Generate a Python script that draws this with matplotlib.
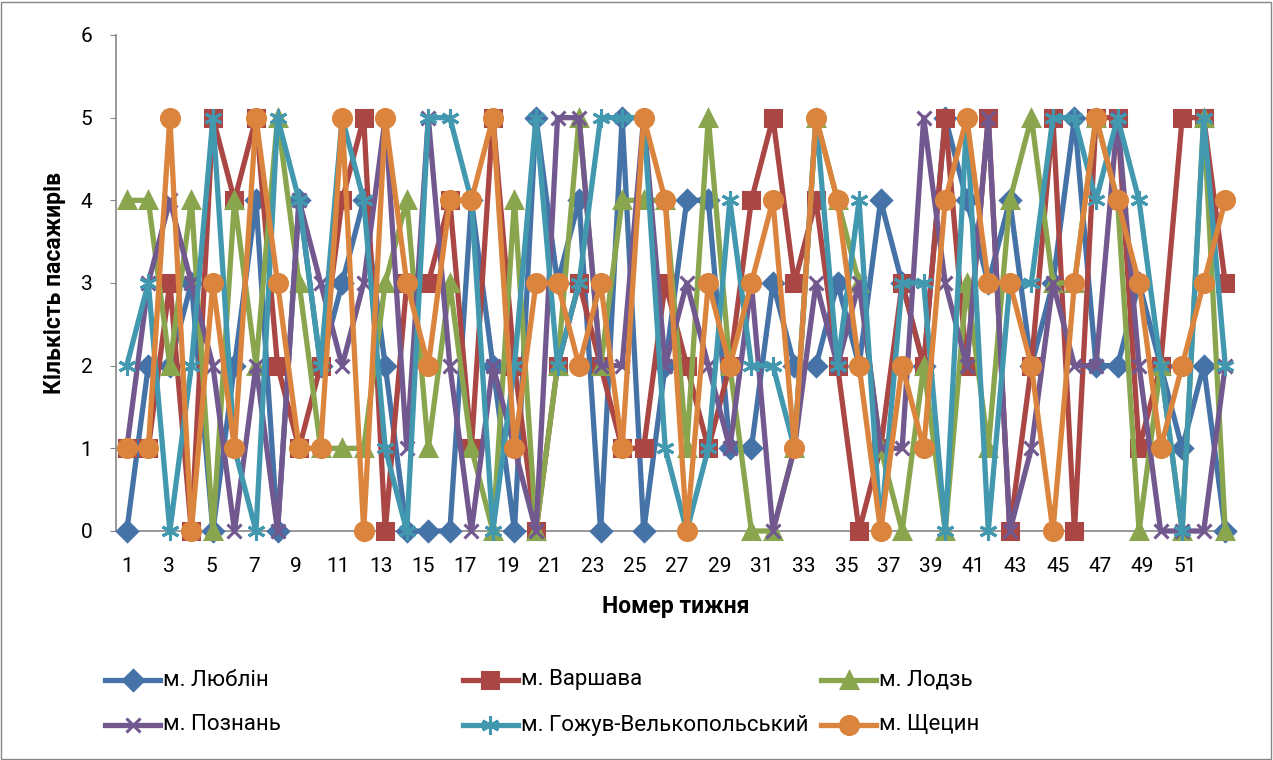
import matplotlib.pyplot as plt
from matplotlib.lines import Line2D
from matplotlib.patches import Rectangle
import numpy as np

plt.rcParams['font.family'] = ['Roboto', 'DejaVu Sans']

weeks = list(range(1, 53))

lublin = [0, 2, 2, 3, 0, 2, 4, 0, 4, 2, 3, 4, 2, 0, 0, 0, 4, 2, 0, 5, 3, 4, 0, 5, 0, 2,
          4, 4, 1, 1, 3, 2, 2, 3, 2, 4, 3, 2, 5, 4, 3, 4, 2, 3, 5, 2, 2, 3, 2, 1, 2, 0]
varshava = [1, 1, 3, 0, 5, 4, 5, 2, 1, 2, 4, 5, 0, 3, 3, 4, 1, 5, 2, 0, 2, 3, 2, 1, 1, 3,
            2, 1, 2, 4, 5, 3, 4, 2, 0, 1, 3, 2, 5, 2, 5, 0, 2, 5, 0, 5, 5, 1, 2, 5, 5, 3]
lodz = [4, 4, 2, 4, 0, 4, 2, 5, 3, 1, 1, 1, 3, 4, 1, 3, 1, 0, 4, 0, 2, 5, 2, 4, 4, 4,
        1, 5, 2, 0, 0, 1, 5, 4, 3, 1, 0, 2, 0, 3, 1, 4, 5, 3, 3, 5, 4, 0, 2, 0, 5, 0]
poznan = [1, 3, 4, 3, 2, 0, 2, 0, 4, 3, 2, 3, 5, 1, 5, 2, 0, 2, 1, 0, 5, 5, 2, 2, 5, 2,
          3, 2, 1, 3, 0, 1, 3, 2, 3, 1, 1, 5, 3, 2, 5, 0, 1, 3, 2, 2, 5, 2, 0, 0, 0, 2]
gorzow = [2, 3, 0, 2, 5, 1, 0, 5, 4, 2, 5, 4, 1, 0, 5, 5, 4, 0, 2, 5, 2, 3, 5, 5, 5, 1,
          0, 1, 4, 2, 2, 1, 5, 2, 4, 0, 3, 3, 0, 5, 0, 3, 3, 5, 5, 4, 5, 4, 2, 0, 5, 2]
shchecin = [1, 1, 5, 0, 3, 1, 5, 3, 1, 1, 5, 0, 5, 3, 2, 4, 4, 5, 1, 3, 3, 2, 3, 1, 5, 4,
            0, 3, 2, 3, 4, 1, 5, 4, 2, 0, 2, 1, 4, 5, 3, 3, 2, 0, 3, 5, 4, 3, 1, 2, 3, 4]

tick_labels = [str(w) for w in range(1, 53, 2)]

names = ['м. Люблін', 'м. Варшава', 'м. Лодзь', 'м. Познань', 'м. Гожув-Велькопольський', 'м. Щецин']
series = [lublin, varshava, lodz, poznan, gorzow, shchecin]
colors = ['#4572A7', '#AA4643', '#89A54E', '#71588F', '#4198AF', '#DB843D']
markers = ['D', 's', '^', 'x', (6, 2, 0), 'o']
msizes = [10, 11, 12, 10, 13, 13]

W, H = 1273, 760
fig = plt.figure(figsize=(W / 100, H / 100), dpi=100)
ax = fig.add_axes([116 / W, (H - 531) / H, 1120 / W, 496 / H])

for vals, c, m, ms in zip(series, colors, markers, msizes):
    ax.plot(weeks, vals, color=c, lw=3.8, marker=m, ms=ms, mew=2.2,
            mec=c, mfc=c, clip_on=False, zorder=3)

ax.set_xlim(0.5, 52.5)
ax.set_ylim(0, 6)
ax.set_yticks(range(0, 7))
# the category labels in the original sit a little tighter than the points
ax.set_xticks([1 + (int(t) - 1) * 0.9825 for t in tick_labels])
ax.set_xticklabels(tick_labels)
ax.tick_params(axis='y', labelsize=15, length=4, pad=13, color='#868686')
ax.tick_params(axis='x', labelsize=15, length=0, pad=19)
for s in ['top', 'right']:
    ax.spines[s].set_visible(False)
for s in ['left', 'bottom']:
    ax.spines[s].set_color('#868686')
    ax.spines[s].set_linewidth(1.2)

fig.text(676 / W, 1 - 607 / H, 'Номер тижня', fontsize=16.5, fontweight='bold',
         ha='center', va='center')
fig.text(55 / W, 1 - 283 / H, 'Кількість пасажирів', fontsize=16.5, fontweight='bold',
         ha='center', va='center', rotation=90)

# legend drawn by hand to keep Excel's even column spacing
col_x = [105, 463, 821]
row_y = [680, 725]
for i, (name, c, m, ms) in enumerate(zip(names, colors, markers, msizes)):
    x0 = col_x[i % 3]
    y0 = row_y[i // 3]
    yf = 1 - y0 / H
    fig.add_artist(Line2D([x0 / W, (x0 + 55) / W], [yf, yf], color=c, lw=3.8))
    fig.add_artist(Line2D([(x0 + 27.5) / W], [yf], color=c, marker=m, ms=ms,
                          mew=2.2, mec=c, mfc=c))
    fig.text((x0 + 58) / W, yf, name, fontsize=16, ha='left', va='center')

fig.add_artist(Rectangle((1 / W, 1 / H), (W - 3) / W, (H - 3) / H, fill=False,
                         edgecolor='#868686', lw=1, transform=fig.transFigure))

fig.savefig('out.png', dpi=100)
